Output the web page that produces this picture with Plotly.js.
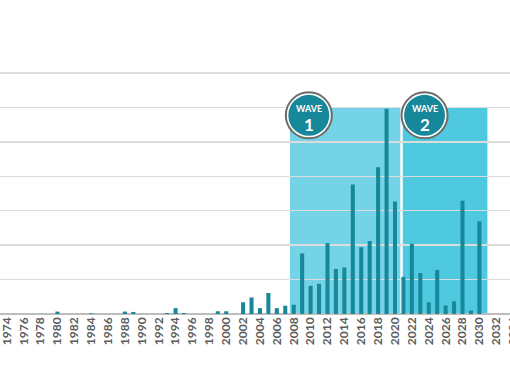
<!DOCTYPE html>
<html>
<head>
<meta charset="utf-8">
<script src="https://cdn.plot.ly/plotly-3.0.1.min.js"></script>
<style>html,body{margin:0;padding:0;background:#fff;overflow:hidden}#wrap{width:510px;height:382px;overflow:hidden}#chart{width:524px;height:382px}</style>
</head>
<body>
<div id="wrap"><div id="chart"></div></div>
<script>
const years = [1980,1984,1988,1989,1993,1994,1995,1999,2000,2002,2003,2004,2005,2006,2007,2008,2009,2010,2011,2012,2013,2014,2015,2016,2017,2018,2019,2020,2021,2022,2023,2024,2025,2026,2027,2028,2029,2030];
const values = [0.7,0.2,0.7,0.6,0.3,1.7,0.3,0.8,0.8,3.4,4.8,1.7,6.1,1.7,2.4,2.7,17.6,8.2,8.8,20.6,13.1,13.5,37.6,19.4,21.2,42.6,59.6,32.7,10.8,20.4,11.9,3.4,12.8,2.5,3.7,32.9,1.0,26.9];
const tickYears = [];
for (let y = 1974; y <= 2034; y += 2) tickYears.push(y);
const tickLabels = tickYears.map(String);
const waveLabels = ["1", "2"];
const waveStart = [2007.55, 2020.92];
const waveEnd = [2020.63, 2030.95];
const waveCenter = [2009.79, 2023.5];
const waveTop = 60;

const barColor = "#17879a";
const waveFill = ["#74d3e6", "#4fc9e0"];

const shapes = [];
const annotations = [];
for (let i = 0; i < waveLabels.length; i++) {
  shapes.push({type: "rect", layer: "below", xref: "x", yref: "y",
    x0: waveStart[i], x1: waveEnd[i], y0: 0, y1: waveTop,
    fillcolor: waveFill[i], line: {width: 0}});
  shapes.push({type: "circle", layer: "above", xref: "x", yref: "y",
    xsizemode: "pixel", ysizemode: "pixel", xanchor: waveCenter[i], yanchor: 57.7,
    x0: -23, x1: 23, y0: -23, y1: 23,
    fillcolor: "#ffffff", line: {color: "#6b6b6b", width: 2}});
  shapes.push({type: "circle", layer: "above", xref: "x", yref: "y",
    xsizemode: "pixel", ysizemode: "pixel", xanchor: waveCenter[i], yanchor: 57.7,
    x0: -20.5, x1: 20.5, y0: -20.5, y1: 20.5,
    fillcolor: "#17879a", line: {width: 0}});
  annotations.push({xref: "x", yref: "y", x: waveCenter[i], y: 59.7, text: "WAVE",
    showarrow: false, borderpad: 0,
    font: {family: "Lato", size: 9, color: "#ffffff", weight: 700}});
  annotations.push({xref: "x", yref: "y", x: waveCenter[i], y: 55.1, text: waveLabels[i],
    showarrow: false, borderpad: 0,
    font: {family: "Lato", size: 17, color: "#ffffff", weight: 700}});
}

const data = [{
  type: "bar", x: years, y: values, width: 0.48,
  marker: {color: barColor, line: {width: 0}}, hoverinfo: "skip"
}];

const pxPerYear = 8.44;
const plotWidth = 524;
const xStart = 1973.2;

const layout = {
  width: plotWidth, height: 382,
  margin: {l: 0, r: 0, t: 72, b: 68},
  paper_bgcolor: "#ffffff", plot_bgcolor: "rgba(0,0,0,0)",
  showlegend: false,
  xaxis: {
    range: [xStart, xStart + plotWidth / pxPerYear], tickmode: "array", tickvals: tickYears, ticktext: tickLabels,
    tickangle: -90, ticks: "", ticklen: 0, showgrid: false, zeroline: false, showline: false,
    ticklabeloverflow: "allow",
    tickfont: {family: "Lato", size: 12, color: "#5c5c5c", weight: 700},
    automargin: false
  },
  yaxis: {
    range: [0, 70.3], tickmode: "array", tickvals: [10,20,30,40,50,60,70],
    showticklabels: false, ticks: "", showgrid: true, gridcolor: "#dcdcdc", gridwidth: 1.5,
    zeroline: true, zerolinecolor: "#bdbdbd", zerolinewidth: 2, showline: false, automargin: false
  },
  shapes: shapes,
  annotations: annotations
};

Plotly.newPlot("chart", data, layout, {staticPlot: true, displayModeBar: false});
</script>
</body>
</html>
